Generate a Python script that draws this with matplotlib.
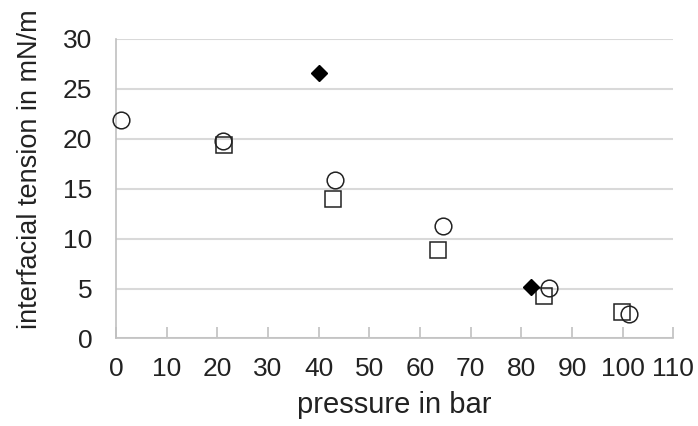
import matplotlib
matplotlib.use('Agg')
import matplotlib.pyplot as plt

plt.rcParams['font.family'] = ['Liberation Sans', 'DejaVu Sans']

# series: open circles, open squares, filled diamonds
circle_p = [1.0, 21.2, 43.2, 64.6, 85.5, 101.3]
circle_ift = [21.9, 19.8, 15.85, 11.3, 5.1, 2.5]
square_p = [21.4, 42.9, 63.5, 84.5, 99.8]
square_ift = [19.35, 14.0, 8.9, 4.25, 2.7]
diamond_p = [40.0, 82.0]
diamond_ift = [26.6, 5.2]

x_ticks = list(range(0, 111, 10))
y_ticks = list(range(0, 31, 5))

fig = plt.figure(figsize=(6.98, 4.26), dpi=100)
ax = fig.add_axes([0.1662, 0.2054, 0.7984, 0.7042])

ax.plot(circle_p, circle_ift, 'o', ms=12, mfc='none', mec='#222222', mew=1.1,
        clip_on=False, zorder=3)
ax.plot(square_p, square_ift, 's', ms=11.5, mfc='none', mec='#222222', mew=1.1,
        clip_on=False, zorder=3)
ax.plot(diamond_p, diamond_ift, 'D', ms=8.5, mfc='black', mec='black',
        clip_on=False, zorder=4)

ax.set_xlim(0, 110)
ax.set_ylim(0, 30)
ax.set_xticks(x_ticks)
ax.set_yticks(y_ticks)
ax.yaxis.grid(True, color='#d9d9d9', lw=1.5)
ax.set_axisbelow(True)

for side in ['right', 'top']:
    ax.spines[side].set_visible(False)
for side in ['left', 'bottom']:
    ax.spines[side].set_color('#c0c0c0')
    ax.spines[side].set_linewidth(1.2)

ax.tick_params(axis='x', direction='in', length=8, color='#c0c0c0', width=1.2,
               labelsize=19, pad=13, labelcolor='#222222')
ax.tick_params(axis='y', length=0, labelsize=19, pad=17, labelcolor='#222222')

ax.set_xlabel('pressure in bar', fontsize=21, color='#222222')
ax.set_ylabel('interfacial tension in mN/m', fontsize=19.5, color='#222222')
ax.xaxis.set_label_coords(0.5, -0.175)
ax.yaxis.set_label_coords(-0.131, 0.565)

plt.savefig('out.png', dpi=100)
